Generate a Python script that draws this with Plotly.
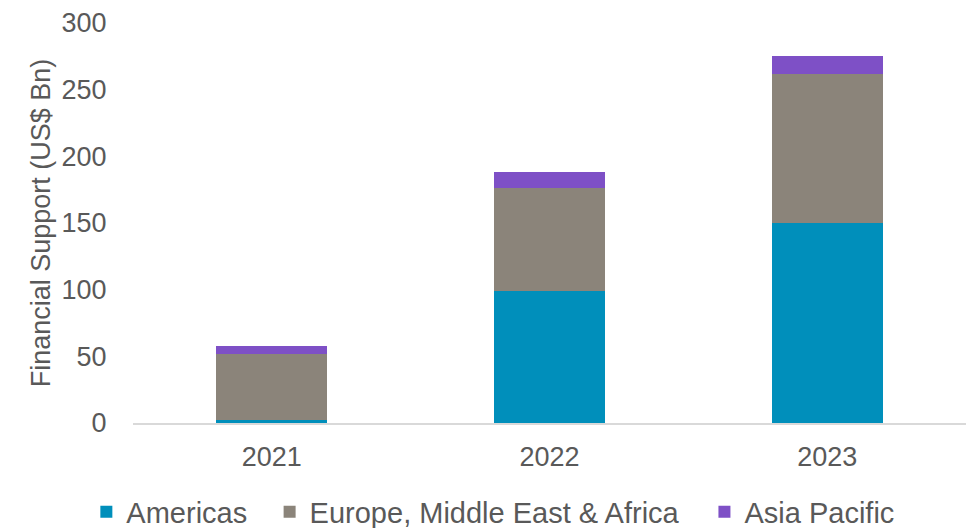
import plotly.graph_objects as go

# Financial support by region, US$ Bn
years = ["2021", "2022", "2023"]
americas = [2.5, 99, 150]
emea = [49.5, 77, 112]
asia_pacific = [5.5, 12.5, 13]

region_names = ["Americas", "Europe, Middle East & Africa", "Asia Pacific"]
region_colors = ["#008FBB", "#8B847A", "#7E50C6"]
region_values = [americas, emea, asia_pacific]

# one single-entry legend per region, laid out along the bottom
legend_ids = ["legend", "legend2", "legend3"]
legend_x = [-0.056, 0.164, 0.686]

text_color = "#595959"
font_family = "Liberation Sans, Arial, sans-serif"

fig = go.Figure()
for name, values, color, lid in zip(region_names, region_values, region_colors, legend_ids):
    fig.add_trace(go.Bar(
        x=years, y=values, name=name, legend=lid,
        marker=dict(color=color, line=dict(width=0)),
    ))

legend_common = dict(
    orientation="h",
    xanchor="left",
    y=-0.222, yanchor="middle",
    font=dict(size=29, color=text_color),
    itemwidth=30,
    bgcolor="rgba(0,0,0,0)",
)

fig.update_layout(
    barmode="stack",
    bargap=0.6,
    width=971,
    height=528,
    margin=dict(l=133, r=5, t=23, b=105, autoexpand=False),
    paper_bgcolor="white",
    plot_bgcolor="white",
    font=dict(family=font_family, size=27, color=text_color),
    showlegend=True,
    legend=dict(x=legend_x[0], **legend_common),
    legend2=dict(x=legend_x[1], **legend_common),
    legend3=dict(x=legend_x[2], **legend_common),
    xaxis=dict(
        showgrid=False,
        showline=True,
        linecolor="#D9D9D9",
        linewidth=1.5,
        ticks="outside",
        ticklen=9,
        tickcolor="rgba(0,0,0,0)",
        tickfont=dict(size=27, color=text_color),
        automargin=False,
    ),
    yaxis=dict(
        range=[0, 300],
        dtick=50,
        showgrid=False,
        zeroline=False,
        showline=False,
        ticks="outside",
        ticklen=20,
        tickcolor="rgba(0,0,0,0)",
        tickfont=dict(size=27, color=text_color),
        title=dict(text="Financial Support (US$ Bn)", font=dict(size=27, color=text_color), standoff=3),
        automargin=False,
    ),
)

fig.write_html("out.html")
